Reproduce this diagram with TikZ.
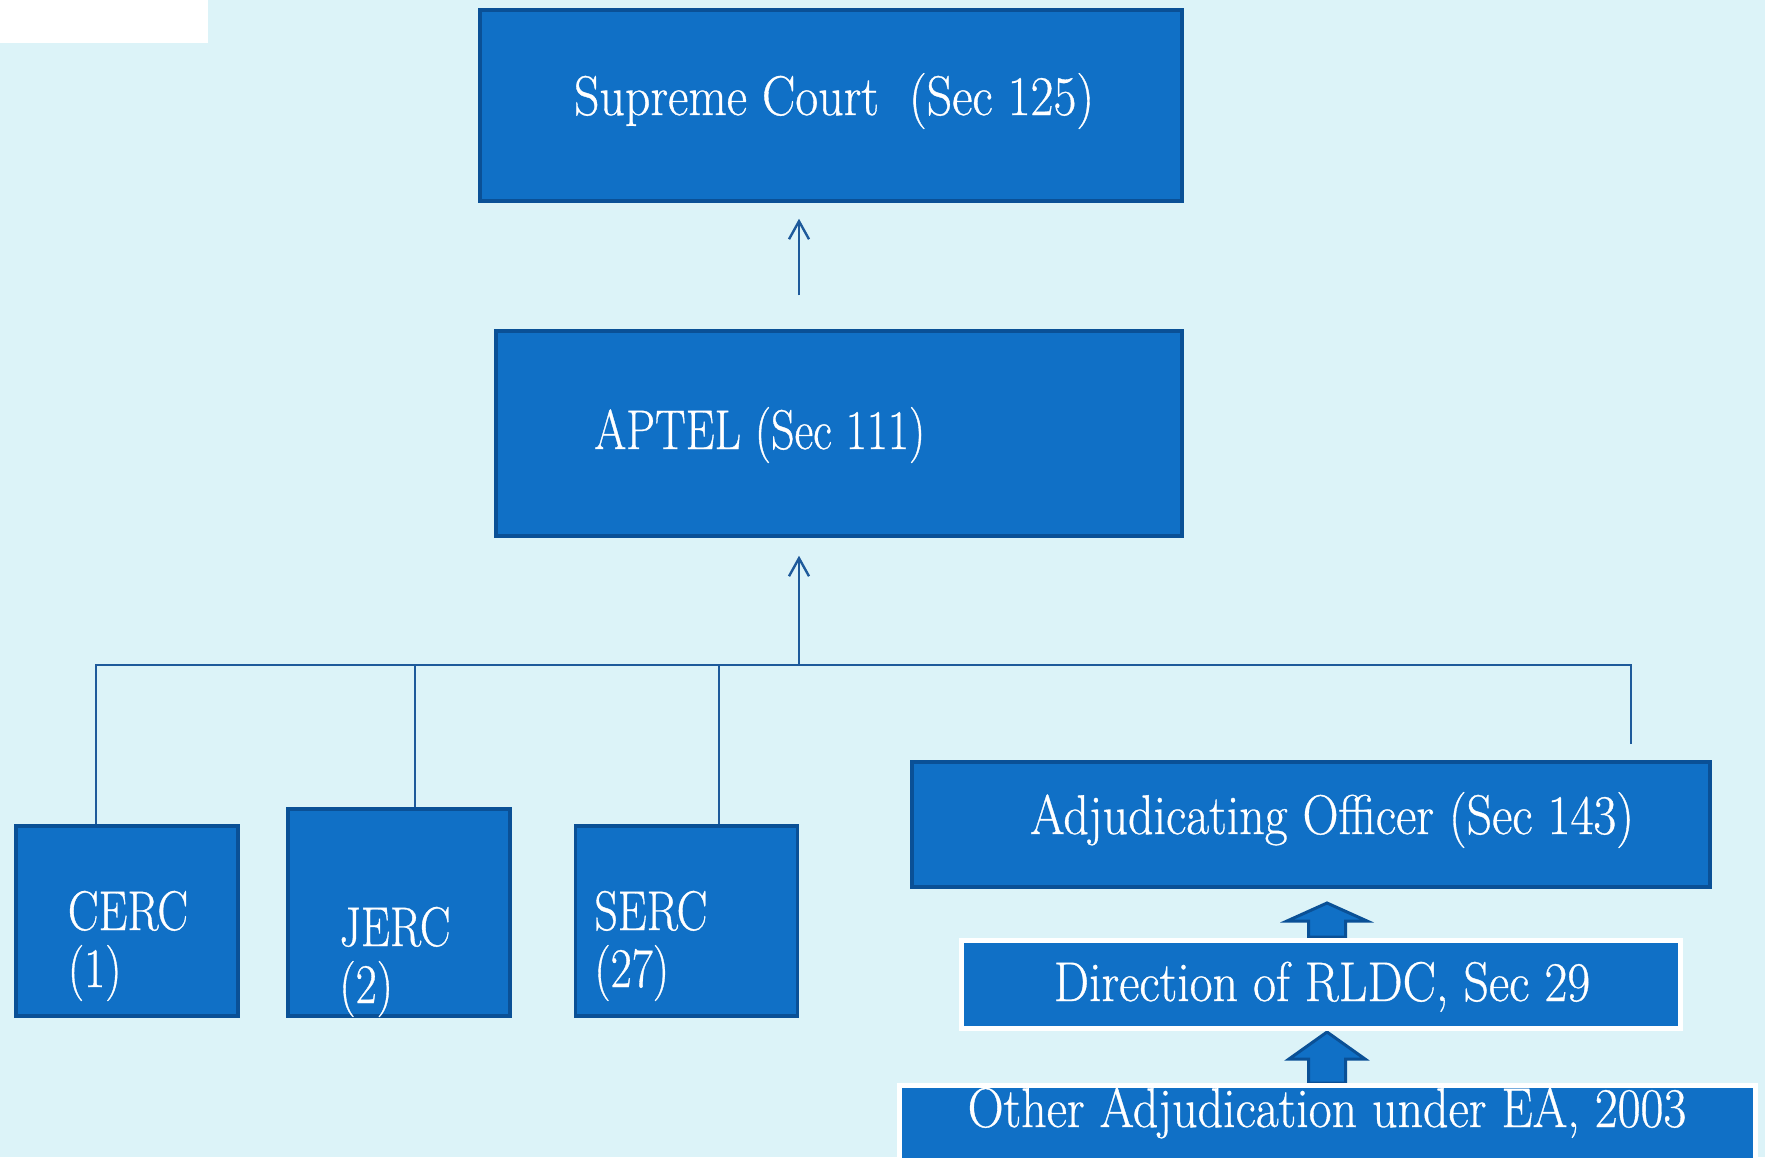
\documentclass[tikz,border=0pt]{standalone}
\usepackage{fontspec}
\setmainfont{Latin Modern Roman}[FakeStretch=0.89,FakeBold=0.6]
\newfontfamily\capsfont{Latin Modern Roman}[FakeStretch=0.82,FakeBold=0.6]
\usetikzlibrary{arrows.meta}
\definecolor{bgcyan}{RGB}{220,243,248}
\definecolor{boxfill}{RGB}{16,112,198}
\definecolor{boxline}{RGB}{10,80,150}
\definecolor{wirecol}{RGB}{30,90,155}
\begin{document}
\begin{tikzpicture}[x=0.5pt,y=-0.5pt,
  box/.style={rectangle, draw=boxline, line width=1.75pt, fill=boxfill, inner sep=0pt},
  lightbox/.style={rectangle, draw=white, line width=2.5pt, fill=boxfill, inner sep=0pt},
  lbl/.style={text=white, font=\fontsize{28}{34}\selectfont, inner sep=0pt},
  caplbl/.style={lbl, font=\capsfont\fontsize{28}{34}\selectfont},
  wire/.style={draw=wirecol, line width=1pt},
  upto/.style={draw=wirecol, line width=1.2pt, -{Straight Barb[length=9pt,width=10pt]}},
  blockarrow/.style={draw=boxline, fill=boxfill, line width=1.5pt, line join=miter}]
\useasboundingbox (0,0) rectangle (1765,1157);
\clip (0,0) rectangle (1765,1157);
\fill[bgcyan] (0,0) rectangle (1765,1157);
\fill[white] (0,0) rectangle (208,43);

% courts and commissions
\node[box, minimum width=351pt, minimum height=95.5pt] (sc) at (831,105.5) {};
\node[box, minimum width=343pt, minimum height=102.5pt] (aptel) at (839,433.5) {};
\node[box, minimum width=111pt, minimum height=95pt] (cerc) at (126.75,921) {};
\node[box, minimum width=111pt, minimum height=103.5pt] (jerc) at (399,912.5) {};
\node[box, minimum width=111pt, minimum height=95pt] (serc) at (686.5,921) {};
\node[box, minimum width=399pt, minimum height=62.5pt] (adj) at (1311,824.5) {};

% block arrows feeding the adjudicating officer
\draw[blockarrow] (1308.5,937) -- (1308.5,921) -- (1287,921) -- (1327,903)
  -- (1367,921) -- (1345.5,921) -- (1345.5,937) -- cycle;
\draw[blockarrow] (1308.5,1083) -- (1308.5,1059) -- (1289,1059) -- (1327,1032)
  -- (1365,1059) -- (1345.5,1059) -- (1345.5,1083) -- cycle;

\node[lightbox, minimum width=359.5pt, minimum height=44pt] (dir) at (1321,984.5) {};
\node[lightbox, minimum width=428pt, minimum height=44.75pt] (other) at (1327.5,1130) {};

% labels
\node[lbl, anchor=base] (sctext) at (834,115) {Supreme Court\ \ (Sec 125)};
\node[caplbl, anchor=base west] (apteltext) at (594,449) {APTEL (Sec 111)};
\node[caplbl, anchor=base west] (cerctext) at (67.5,930) {CERC};
\node[caplbl, anchor=base west] (cercnum) at (67.5,987) {(1)};
\node[caplbl, anchor=base west] (jerctext) at (339,946) {JERC};
\node[caplbl, anchor=base west] (jercnum) at (339,1003) {(2)};
\node[caplbl, anchor=base west] (serctext) at (594,930) {SERC};
\node[caplbl, anchor=base west] (sercnum) at (594,987) {(27)};
\node[lbl, anchor=base] (adjtext) at (1332,834) {Adjudicating Officer (Sec 143)};
\node[lbl, anchor=base] (dirtext) at (1322,1001) {Direction of RLDC, Sec 29};
\node[lbl, anchor=base] (othertext) at (1327,1127) {Other Adjudication under EA, 2003};

% appeal tree
\coordinate (hub) at (799,665);
\coordinate (adjtap) at (1631,744);
\draw[wire] ([xshift=-15.4pt]cerc.north) |- (hub);
\draw[wire] ([xshift=8pt]jerc.north) |- (hub);
\draw[wire] ([xshift=16.25pt]serc.north) |- (hub);
\draw[wire] (adjtap) |- (hub);
\draw[upto, shorten >=9pt] (hub) -- (hub |- aptel.south);
\draw[upto, shorten <=17pt, shorten >=8pt] (hub |- aptel.north) -- (hub |- sc.south);
\end{tikzpicture}
\end{document}
